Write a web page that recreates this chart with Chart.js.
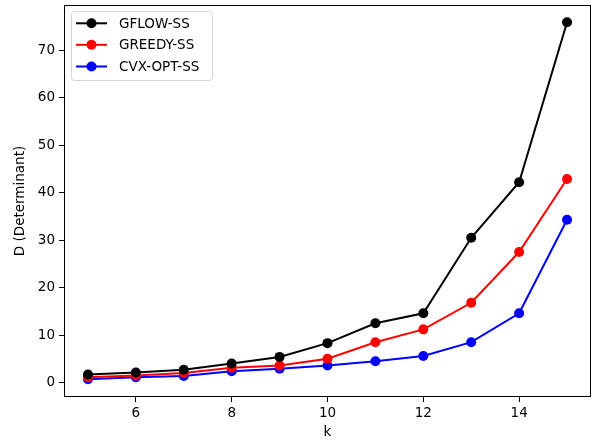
<!DOCTYPE html>
<html>
<head>
<meta charset="utf-8">
<script src="https://cdn.jsdelivr.net/npm/chart.js@4/dist/chart.umd.min.js"></script>
<style>
  html, body { margin: 0; padding: 0; background: #fff; }
  #wrap { width: 597px; height: 441px; }
</style>
</head>
<body>
<div id="wrap"><canvas id="c" width="597" height="441"></canvas></div>
<script>
const kValues = [5, 6, 7, 8, 9, 10, 11, 12, 13, 14, 15];
const gflow  = [1.7, 2.1, 2.7, 4.0, 5.4, 8.3, 12.5, 14.6, 30.5, 42.2, 75.9];
const greedy = [1.1, 1.5, 2.0, 3.1, 3.6, 5.0, 8.5, 11.2, 16.8, 27.5, 42.9];
const cvxopt = [0.7, 1.1, 1.4, 2.4, 2.9, 3.6, 4.5, 5.6, 8.5, 14.6, 34.3];
const seriesNames = ['GFLOW-SS', 'GREEDY-SS', 'CVX-OPT-SS'];
const seriesColors = ['#000000', '#ff0000', '#0000ff'];
const xTicks = [6, 8, 10, 12, 14];
const yTicks = [0, 10, 20, 30, 40, 50, 60, 70];
const xTitle = 'k';
const yTitle = 'D (Determinant)';

const FONT = { family: "'DejaVu Sans', sans-serif", size: 13.5 };

const seriesValues = [gflow, greedy, cvxopt];
const datasets = seriesValues.map((vals, i) => ({
  label: seriesNames[i],
  data: kValues.map((k, j) => ({ x: k, y: vals[j] })),
  borderColor: seriesColors[i],
  backgroundColor: seriesColors[i],
  borderWidth: 2,
  pointRadius: 5,
  pointHoverRadius: 5,
  pointBorderWidth: 0,
  tension: 0,
  clip: false
}));

const framePlugin = {
  id: 'frame',
  afterDatasetsDraw(chart) {
    const { ctx, chartArea: a } = chart;
    ctx.save();
    ctx.strokeStyle = '#000';
    ctx.lineWidth = 1;
    ctx.strokeRect(Math.round(a.left) + 0.5, Math.round(a.top) + 0.5,
      Math.round(a.right - a.left) - 1, Math.round(a.bottom - a.top) - 1);
    ctx.restore();
  }
};

const legendPlugin = {
  id: 'mplLegend',
  afterDraw(chart) {
    const ctx = chart.ctx;
    const x0 = 71.5, y0 = 11.5, w = 141, h = 69, r = 3;
    ctx.save();
    ctx.globalAlpha = 0.8;
    ctx.fillStyle = '#fff';
    ctx.strokeStyle = '#cccccc';
    ctx.lineWidth = 1;
    ctx.beginPath();
    ctx.moveTo(x0 + r, y0);
    ctx.lineTo(x0 + w - r, y0);
    ctx.quadraticCurveTo(x0 + w, y0, x0 + w, y0 + r);
    ctx.lineTo(x0 + w, y0 + h - r);
    ctx.quadraticCurveTo(x0 + w, y0 + h, x0 + w - r, y0 + h);
    ctx.lineTo(x0 + r, y0 + h);
    ctx.quadraticCurveTo(x0, y0 + h, x0, y0 + h - r);
    ctx.lineTo(x0, y0 + r);
    ctx.quadraticCurveTo(x0, y0, x0 + r, y0);
    ctx.closePath();
    ctx.fill();
    ctx.stroke();
    ctx.globalAlpha = 1;
    const rows = [23.3, 44.8, 66.5];
    ctx.font = FONT.size + 'px ' + FONT.family;
    ctx.textBaseline = 'middle';
    ctx.textAlign = 'left';
    seriesNames.forEach((name, i) => {
      const y = rows[i];
      ctx.strokeStyle = seriesColors[i];
      ctx.lineWidth = 2;
      ctx.beginPath();
      ctx.moveTo(76, y);
      ctx.lineTo(107, y);
      ctx.stroke();
      ctx.fillStyle = seriesColors[i];
      ctx.beginPath();
      ctx.arc(91.5, y, 5, 0, Math.PI * 2);
      ctx.fill();
      ctx.fillStyle = '#000';
      ctx.fillText(name, 119, y + 1);
    });
    ctx.restore();
  }
};

new Chart(document.getElementById('c'), {
  type: 'line',
  data: { datasets },
  plugins: [framePlugin, legendPlugin],
  options: {
    responsive: false,
    animation: false,
    devicePixelRatio: 1,
    layout: { padding: { left: 0, right: 6, top: 4, bottom: 0 } },
    plugins: { legend: { display: false }, tooltip: { enabled: false } },
    scales: {
      x: {
        type: 'linear',
        min: 4.5,
        max: 15.5,
        afterBuildTicks: (s) => { s.ticks = xTicks.map(v => ({ value: v })); },
        afterFit: (s) => { s.height = 44; s.paddingLeft = 0; s.paddingRight = 0; },
        grid: { display: true, drawOnChartArea: false, drawTicks: true, tickLength: 5, color: '#000', tickWidth: 1 },
        border: { display: false },
        ticks: { color: '#000', font: FONT, padding: 3, maxRotation: 0, autoSkip: false },
        title: { display: true, text: xTitle, color: '#000', font: FONT, padding: { top: 0, bottom: 0 } }
      },
      y: {
        type: 'linear',
        min: -3.05,
        max: 79.55,
        afterBuildTicks: (s) => { s.ticks = yTicks.map(v => ({ value: v })); },
        afterFit: (s) => { s.width = 64; s.paddingTop = 0; s.paddingBottom = 0; },
        grid: { display: true, drawOnChartArea: false, drawTicks: true, tickLength: 5, color: '#000', tickWidth: 1 },
        border: { display: false },
        ticks: { color: '#000', font: FONT, padding: 4, autoSkip: false },
        title: { display: true, text: yTitle, color: '#000', font: FONT, padding: { top: 12.5, bottom: 0 } }
      }
    }
  }
});
</script>
</body>
</html>
